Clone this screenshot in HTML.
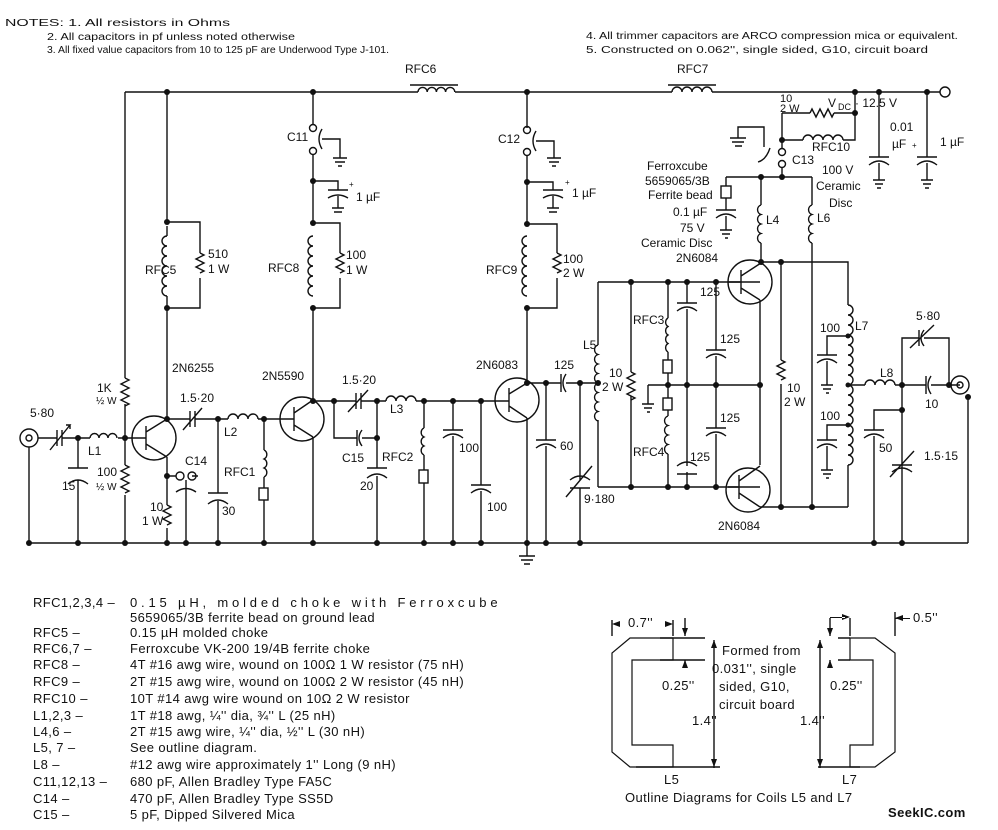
<!DOCTYPE html>
<html><head><meta charset="utf-8"><style>
html,body{margin:0;padding:0;background:#fff;}
svg{display:block;}
text{font-family:"Liberation Sans",sans-serif;fill:#111;}
.l{font-size:12px;}
.n{font-size:10px;}
.t{font-size:13px;letter-spacing:0.4px;}
</style></head><body>
<svg width="998" height="830" viewBox="0 0 998 830" xmlns="http://www.w3.org/2000/svg">
<g fill="none" stroke="#111" stroke-width="1.4">
<path d="M125 92H418 M455 92H672 M712 92H940"/>
<path d="M418 92a4.6 4.6 0 0 1 9.2 0a4.6 4.6 0 0 1 9.2 0a4.6 4.6 0 0 1 9.2 0a4.6 4.6 0 0 1 9.2 0"/>
<path d="M672 92a5 5 0 0 1 10 0a5 5 0 0 1 10 0a5 5 0 0 1 10 0a5 5 0 0 1 10 0"/>
<path d="M410 85H458 M668 85H716"/>
<circle cx="945" cy="92" r="5"/>
<path d="M29 543H968 M968 397V543"/>
<path d="M125 92V378 M125 404V465 M125 495V543"/>
<path d="M125 378l4 2l-8 4l8 4l-8 4l8 4l-8 4l8 4l-4 2"/>
<path d="M125 465l4 2l-8 4l8 4l-8 4l8 4l-8 4l8 4l-4 2"/>
<circle cx="29" cy="438" r="9"/><circle cx="29" cy="438" r="3"/>
<path d="M38 438H57 M62 438H90 M118 438H134 M29 447V543"/>
<path d="M57 430V446 M62 430V446"/><path d="M50 450L70 425l-4 0 M70 425l0 4"/>
<path d="M90 438a4.5 4.5 0 0 1 9 0a4.5 4.5 0 0 1 9 0a4.5 4.5 0 0 1 9 0"/>
<path d="M78 438V468 M78 480V543 M68 468H88 M68 484q10-8 20 0"/>
<circle cx="154" cy="438" r="22"/>
<path d="M134 438H146 M146 426V450 M146 432L167 419 M146 444L167 457"/>
<path d="M167 92V222 M167 308V419 M167 457V505 M167 528V543"/>
<path d="M167 505l4 2l-8 4l8 4l-8 4l8 4l-4 2"/>
<path d="M167 222H200V253 M200 278V308H167 M167 226V236 M167 296V308"/>
<path d="M200 253l4 2l-8 4l8 4l-8 4l8 4l-4 2"/>
<path d="M167 236a5 5 0 0 0 0 10a5 5 0 0 0 0 10a5 5 0 0 0 0 10a5 5 0 0 0 0 10a5 5 0 0 0 0 10a5 5 0 0 0 0 10"/>
<path d="M167 476H176 M192 476H198"/><circle cx="180" cy="476" r="4"/><circle cx="192" cy="476" r="4"/>
<path d="M186 480V543 M176 492q10-7 20 0"/>
<path d="M167 419H190 M195 419H228 M190 411V427 M195 411V427 M183 430L202 408"/>
<path d="M228 419a5 5 0 0 1 10 0a5 5 0 0 1 10 0a5 5 0 0 1 10 0 M258 419H280"/>
<path d="M218 419V493 M208 493H228 M208 504q10-8 20 0 M218 501V543"/>
<path d="M264 419V450 M264 450a5 5 0 0 1 0 9a5 5 0 0 1 0 9a5 5 0 0 1 0 9 M264 477V488 M264 500V543"/>
<rect x="259" y="488" width="9" height="12"/>
<circle cx="302" cy="419" r="22"/>
<path d="M280 419H294 M294 407V431 M294 413L313 400 M294 425L313 437"/>
<path d="M313 92V125 M313 155V223 M313 308V400 M313 437V543"/>
<circle cx="313" cy="128" r="3.5"/><circle cx="313" cy="151" r="3.5"/>
<path d="M322 129q-6 10 0 20 M322 139H340V158 M333 158H347 M335 162H345 M338 166H342"/>
<path d="M313 181H338V190 M328 190H348 M328 198q10-6 20 0 M338 196V208 M332 208H344 M334 212H342"/>
<path d="M313 223H340V253 M340 278V308H313"/>
<path d="M340 253l4 2l-8 4l8 4l-8 4l8 4l-4 2"/>
<path d="M313 236a5 5 0 0 0 0 10a5 5 0 0 0 0 10a5 5 0 0 0 0 10a5 5 0 0 0 0 10a5 5 0 0 0 0 10a5 5 0 0 0 0 10"/>
<path d="M313 401H356 M361 401H386 M416 401H506 M356 393V409 M361 393V409 M348 412L368 390"/>
<path d="M386 401a5 5 0 0 1 10 0a5 5 0 0 1 10 0a5 5 0 0 1 10 0"/>
<path d="M334 401V438H357 M362 438H377 M357 430V446 M362 430q-6 8 0 16"/>
<path d="M377 401V468 M367 468H387 M367 478q10-8 20 0 M377 476V543"/>
<path d="M424 401V428 M424 428a5 5 0 0 0 0 9a5 5 0 0 0 0 9a5 5 0 0 0 0 9 M424 455V470 M424 483V543"/>
<rect x="419" y="470" width="9" height="13"/>
<path d="M453 401V430 M443 430H463 M443 438q10-8 20 0 M453 436V543"/>
<path d="M481 401V485 M471 485H491 M471 493q10-8 20 0 M481 491V543"/>
<circle cx="517" cy="400" r="22"/>
<path d="M506 401H509 M509 388V412 M509 394L527 383 M509 406L527 418"/>
<path d="M527 92V128 M527 155V224 M527 308V383 M527 418V556"/>
<path d="M519 556H535 M521 560H533 M524 564H530"/>
<circle cx="527" cy="130" r="3.5"/><circle cx="527" cy="152" r="3.5"/>
<path d="M536 131q-6 10 0 20 M536 141H554V158 M547 158H561 M549 162H559 M552 166H556"/>
<path d="M527 182H553V190 M543 190H563 M543 198q10-6 20 0 M553 196V208 M547 208H559 M549 212H557"/>
<path d="M527 224H557V253 M557 278V308H527"/>
<path d="M557 253l4 2l-8 4l8 4l-8 4l8 4l-4 2"/>
<path d="M527 236a5 5 0 0 0 0 10a5 5 0 0 0 0 10a5 5 0 0 0 0 10a5 5 0 0 0 0 10a5 5 0 0 0 0 10a5 5 0 0 0 0 10"/>
<path d="M527 383H561 M566 383H598 M561 374V392 M566 374q-6 9 0 18"/>
<path d="M546 383V440 M536 440H556 M536 448q10-8 20 0 M546 446V543"/>
<path d="M580 383V480 M570 480q10-8 20 0 M570 488H590 M566 497L592 466 M580 488V543"/>
<path d="M598 282V345 M598 420V487 M598 282H760 M598 487H760 M631 282V372 M631 396V487"/>
<path d="M598 345a5 5 0 0 0 0 9.5a5 5 0 0 0 0 9.5a5 5 0 0 0 0 9.5a5 5 0 0 0 0 9.5a5 5 0 0 0 0 9.5a5 5 0 0 0 0 9.5a5 5 0 0 0 0 9.5a5 5 0 0 0 0 9.5"/>
<path d="M631 372l4 2l-8 4l8 4l-8 4l8 4l-8 4l8 4l-4 2"/>
<path d="M668 282V318 M668 318a5 5 0 0 0 0 8.5a5 5 0 0 0 0 8.5a5 5 0 0 0 0 8.5a5 5 0 0 0 0 8.5 M668 352V360 M668 373V398 M668 410V416 M668 416a5 5 0 0 0 0 9.5a5 5 0 0 0 0 9.5a5 5 0 0 0 0 9.5a5 5 0 0 0 0 9.5 M668 454V487"/>
<rect x="663" y="360" width="9" height="13"/><rect x="663" y="398" width="9" height="12"/>
<path d="M648 385H760 M648 385V404 M642 404H654 M644 408H652 M647 412H650"/>
<path d="M687 282V303 M677 303H697 M677 311q10-8 20 0 M687 309V466 M677 466q10-8 20 0 M677 474H697 M687 472V487"/>
<path d="M716 282V350 M706 350H726 M706 358q10-8 20 0 M716 356V428 M706 428H726 M706 436q10-8 20 0 M716 434V487"/>
<circle cx="750" cy="282" r="22"/>
<path d="M728 282H741 M741 270V294 M741 276L761 263 M741 288L760 300 M760 300V465"/>
<circle cx="748" cy="490" r="22"/>
<path d="M728 487H739 M739 475V499 M739 481L760 466 M739 493L760 507"/>
<path d="M760 507H848 M781 262V360 M781 384V507 M812 177V205 M812 243V507 M761 262H848V305 M848 465V507"/>
<path d="M781 360l4 2l-8 4l8 4l-8 4l8 4l-4 2"/>
<path d="M761 177V205 M761 243V262 M726 177H812 M726 177V186 M726 198V210"/>
<rect x="721" y="186" width="10" height="12"/>
<path d="M716 210H736 M716 218q10-8 20 0 M726 216V230 M720 230H732 M722 234H730 M725 238H728"/>
<path d="M761 205a5 5 0 0 0 0 9.5a5 5 0 0 0 0 9.5a5 5 0 0 0 0 9.5a5 5 0 0 0 0 9.5"/>
<path d="M812 205a5 5 0 0 0 0 9.5a5 5 0 0 0 0 9.5a5 5 0 0 0 0 9.5a5 5 0 0 0 0 9.5"/>
<circle cx="782" cy="152" r="3.5"/><circle cx="782" cy="164" r="3.5"/>
<path d="M782 168V177 M782 113V148 M782 113H810 M834 113H855V92 M782 140H803 M843 140H855V113"/>
<path d="M810 113l2 -4l4 8l4 -8l4 8l4 -8l4 8l2 -4"/>
<path d="M803 140a5 5 0 0 1 10 0a5 5 0 0 1 10 0a5 5 0 0 1 10 0a5 5 0 0 1 10 0"/>
<path d="M770 148q-4 12 -12 14 M764 147V127H738V138 M730 138H746 M732 142H744 M735 146H742"/>
<path d="M879 92V157 M869 157H889 M869 165q10-8 20 0 M879 163V180 M873 180H885 M875 184H883 M877 188H881"/>
<path d="M927 92V157 M917 157H937 M917 165q10-8 20 0 M927 163V180 M921 180H933 M923 184H931 M925 188H929"/>
<path d="M848 305a5 5 0 0 1 0 10a5 5 0 0 1 0 10a5 5 0 0 1 0 10a5 5 0 0 1 0 10a5 5 0 0 1 0 10a5 5 0 0 1 0 10a5 5 0 0 1 0 10a5 5 0 0 1 0 10a5 5 0 0 1 0 10a5 5 0 0 1 0 10a5 5 0 0 1 0 10a5 5 0 0 1 0 10a5 5 0 0 1 0 10a5 5 0 0 1 0 10a5 5 0 0 1 0 10a5 5 0 0 1 0 10"/>
<path d="M848 336H827V355 M817 355H837 M817 363q10-8 20 0 M827 361V385 M821 385H833 M823 389H831 M826 393H829"/>
<path d="M848 425H827V440 M817 440H837 M817 448q10-8 20 0 M827 446V470 M821 470H833 M823 474H831 M826 478H829"/>
<path d="M848 385H865 M895 385H926 M931 385H960"/>
<path d="M865 385a5 5 0 0 1 10 0a5 5 0 0 1 10 0a5 5 0 0 1 10 0"/>
<path d="M926 376V394 M931 376q-6 9 0 18"/>
<path d="M902 385V338H919 M924 338H949V385 M919 330V346 M924 330q-6 8 0 16 M910 348L934 325"/>
<circle cx="960" cy="385" r="9"/><circle cx="960" cy="385" r="3"/>
<path d="M902 385V543 M902 410H874V430 M864 430H884 M864 438q10-8 20 0 M874 436V543"/>
<path d="M892 465H912 M892 472q10-8 20 0 M890 477L914 451"/>
<path d="M630 638H673V660H632V745H673V767H630L612 752V653Z" stroke-width="1.2"/>
<path d="M875 638H850V660H873V745H850V767H875L895 752V653Z" stroke-width="1.2"/>
<path d="M612 620V636 M673 620V636 M685 618V636 M685 660V668 M660 638H705 M660 660H705 M714 640V768 M636 767H720 M850 618V636 M830 618V636 M830 660V668 M838 638H850 M838 660H850 M820 640V768 M818 767H860 M895 612V636"/>
</g>
<g fill="#111">
<path d="M612 624l8 -3v6z M673 624l-8 -3v6z M685 636l-3 -8h6z M685 660l-3 8h6z M714 640l-3 8h6z M714 767l-3 -8h6z M820 640l-3 8h6z M820 767l-3 -8h6z M830 636l-3 -8h6z M830 660l-3 8h6z M895 618l8 -3v6z M895 618H910V619H895z M850 617l-8 -3v6z M830 617H845V618H830z"/>
<circle cx="167" cy="92" r="3"/><circle cx="313" cy="92" r="3"/><circle cx="527" cy="92" r="3"/><circle cx="855" cy="92" r="3"/><circle cx="879" cy="92" r="3"/><circle cx="927" cy="92" r="3"/>
<circle cx="78" cy="438" r="3"/><circle cx="125" cy="438" r="3"/><circle cx="167" cy="419" r="3"/><circle cx="167" cy="476" r="3"/><circle cx="218" cy="419" r="3"/><circle cx="264" cy="419" r="3"/>
<circle cx="167" cy="222" r="3"/><circle cx="167" cy="308" r="3"/><circle cx="313" cy="181" r="3"/><circle cx="313" cy="223" r="3"/><circle cx="313" cy="308" r="3"/>
<circle cx="527" cy="182" r="3"/><circle cx="527" cy="224" r="3"/><circle cx="527" cy="308" r="3"/>
<circle cx="313" cy="401" r="3"/><circle cx="334" cy="401" r="3"/><circle cx="377" cy="401" r="3"/><circle cx="377" cy="438" r="3"/><circle cx="424" cy="401" r="3"/><circle cx="453" cy="401" r="3"/><circle cx="481" cy="401" r="3"/>
<circle cx="527" cy="383" r="3"/><circle cx="546" cy="383" r="3"/><circle cx="580" cy="383" r="3"/><circle cx="598" cy="383" r="3"/>
<circle cx="29" cy="543" r="3"/><circle cx="78" cy="543" r="3"/><circle cx="125" cy="543" r="3"/><circle cx="167" cy="543" r="3"/><circle cx="186" cy="543" r="3"/><circle cx="218" cy="543" r="3"/><circle cx="264" cy="543" r="3"/><circle cx="313" cy="543" r="3"/><circle cx="377" cy="543" r="3"/><circle cx="424" cy="543" r="3"/><circle cx="453" cy="543" r="3"/><circle cx="481" cy="543" r="3"/><circle cx="527" cy="543" r="3"/><circle cx="546" cy="543" r="3"/><circle cx="580" cy="543" r="3"/><circle cx="874" cy="543" r="3"/><circle cx="902" cy="543" r="3"/>
<circle cx="631" cy="282" r="3"/><circle cx="668" cy="282" r="3"/><circle cx="687" cy="282" r="3"/><circle cx="716" cy="282" r="3"/>
<circle cx="631" cy="487" r="3"/><circle cx="668" cy="487" r="3"/><circle cx="687" cy="487" r="3"/><circle cx="716" cy="487" r="3"/>
<circle cx="668" cy="385" r="3"/><circle cx="687" cy="385" r="3"/><circle cx="716" cy="385" r="3"/><circle cx="760" cy="385" r="3"/>
<circle cx="761" cy="262" r="3"/><circle cx="781" cy="262" r="3"/><circle cx="781" cy="507" r="3"/><circle cx="812" cy="507" r="3"/>
<circle cx="761" cy="177" r="3"/><circle cx="782" cy="177" r="3"/><circle cx="782" cy="140" r="3"/><circle cx="855" cy="113" r="3"/>
<circle cx="848" cy="336" r="2.5"/><circle cx="848" cy="385" r="2.5"/><circle cx="848" cy="425" r="2.5"/>
<circle cx="902" cy="385" r="3"/><circle cx="949" cy="385" r="3"/><circle cx="902" cy="410" r="3"/><circle cx="968" cy="397" r="3"/>
</g>
<g class="n">
<text x="5" y="26" textLength="225" lengthAdjust="spacingAndGlyphs">NOTES:  1.  All resistors in Ohms</text>
<text x="47" y="40" textLength="248" lengthAdjust="spacingAndGlyphs">2.  All capacitors in pf unless noted otherwise</text>
<text x="47" y="53" textLength="342" lengthAdjust="spacingAndGlyphs">3.  All fixed value capacitors from 10 to 125 pF are Underwood Type J-101.</text>
<text x="586" y="39" textLength="372" lengthAdjust="spacingAndGlyphs">4.  All trimmer capacitors are ARCO compression mica or equivalent.</text>
<text x="586" y="53" textLength="342" lengthAdjust="spacingAndGlyphs">5.  Constructed on 0.062'', single sided, G10, circuit board</text>
</g>
<g class="l">
<text x="405" y="73">RFC6</text><text x="677" y="73">RFC7</text>
<text x="828" y="107">V</text><text x="838" y="110" font-size="9">DC</text><text x="855" y="107">· 12.5 V</text>
<text x="780" y="102" font-size="11">10</text><text x="780" y="112" font-size="11">2 W</text>
<text x="812" y="151">RFC10</text><text x="792" y="164">C13</text>
<text x="890" y="131">0.01</text><text x="892" y="148">µF</text><text x="940" y="146">1 µF</text><text x="912" y="148" font-size="8">+</text>
<text x="822" y="174">100 V</text><text x="816" y="190">Ceramic</text><text x="829" y="207">Disc</text>
<text x="647" y="170">Ferroxcube</text><text x="645" y="185">5659065/3B</text><text x="648" y="199">Ferrite bead</text>
<text x="673" y="216">0.1 µF</text><text x="680" y="232">75 V</text><text x="641" y="247">Ceramic Disc</text>
<text x="676" y="262">2N6084</text><text x="766" y="224">L4</text><text x="817" y="222">L6</text>
<text x="700" y="296">125</text><text x="720" y="343">125</text><text x="720" y="422">125</text><text x="690" y="461">125</text>
<text x="633" y="324">RFC3</text><text x="633" y="456">RFC4</text>
<text x="583" y="349">L5</text><text x="609" y="377">10</text><text x="602" y="391">2 W</text>
<text x="787" y="392">10</text><text x="784" y="406">2 W</text>
<text x="718" y="530">2N6084</text>
<text x="820" y="332">100</text><text x="855" y="330">L7</text><text x="820" y="420">100</text>
<text x="880" y="377">L8</text><text x="916" y="320">5·80</text><text x="925" y="408">10</text>
<text x="879" y="452">50</text><text x="924" y="460">1.5·15</text>
<text x="30" y="417">5·80</text><text x="88" y="455">L1</text><text x="62" y="490">15</text>
<text x="97" y="392">1K</text><text x="96" y="404" font-size="10">½ W</text>
<text x="97" y="476">100</text><text x="96" y="490" font-size="10">½ W</text>
<text x="145" y="274">RFC5</text><text x="208" y="258">510</text><text x="208" y="273">1 W</text>
<text x="172" y="372">2N6255</text><text x="180" y="402">1.5·20</text><text x="224" y="436">L2</text>
<text x="185" y="465">C14</text><text x="150" y="511">10</text><text x="142" y="525">1 W</text><text x="222" y="515">30</text>
<text x="224" y="476">RFC1</text><text x="262" y="380">2N5590</text>
<text x="287" y="141">C11</text><text x="356" y="201">1 µF</text><text x="349" y="187" font-size="8">+</text>
<text x="268" y="272">RFC8</text><text x="346" y="259">100</text><text x="346" y="274">1 W</text>
<text x="342" y="384">1.5·20</text><text x="390" y="413">L3</text><text x="342" y="462">C15</text>
<text x="382" y="461">RFC2</text><text x="360" y="490">20</text><text x="459" y="452">100</text><text x="487" y="511">100</text>
<text x="476" y="369">2N6083</text><text x="498" y="143">C12</text><text x="572" y="197">1 µF</text><text x="565" y="185" font-size="8">+</text>
<text x="486" y="274">RFC9</text><text x="563" y="263">100</text><text x="563" y="277">2 W</text>
<text x="554" y="369">125</text><text x="560" y="450">60</text><text x="584" y="503">9·180</text>
</g>
<g class="t">
<text x="33" y="607">RFC1,2,3,4 –</text><text x="130" y="607" textLength="368">0.15 µH,    molded    choke    with    Ferroxcube</text>
<text x="130" y="622">5659065/3B ferrite bead on ground lead</text>
<text x="33" y="637">RFC5 –</text><text x="130" y="637">0.15 µH molded choke</text>
<text x="33" y="653">RFC6,7 –</text><text x="130" y="653">Ferroxcube VK-200 19/4B ferrite choke</text>
<text x="33" y="669">RFC8 –</text><text x="130" y="669">4T #16 awg wire, wound on 100Ω 1 W resistor (75 nH)</text>
<text x="33" y="686">RFC9 –</text><text x="130" y="686">2T #15 awg wire, wound on 100Ω 2 W resistor  (45 nH)</text>
<text x="33" y="703">RFC10 –</text><text x="130" y="703">10T #14 awg wire wound on 10Ω 2 W resistor</text>
<text x="33" y="720">L1,2,3 –</text><text x="130" y="720">1T #18 awg, ¼'' dia, ¾'' L (25 nH)</text>
<text x="33" y="736">L4,6 –</text><text x="130" y="736">2T #15 awg wire, ¼'' dia, ½'' L (30 nH)</text>
<text x="33" y="752">L5, 7 –</text><text x="130" y="752">See outline diagram.</text>
<text x="33" y="769">L8 –</text><text x="130" y="769">#12 awg wire approximately 1'' Long (9 nH)</text>
<text x="33" y="786">C11,12,13 –</text><text x="130" y="786">680 pF, Allen Bradley Type FA5C</text>
<text x="33" y="803">C14 –</text><text x="130" y="803">470 pF, Allen Bradley Type SS5D</text>
<text x="33" y="819">C15 –</text><text x="130" y="819">5 pF, Dipped Silvered Mica</text>
</g>
<g class="t">
<text x="628" y="627">0.7''</text><text x="913" y="622">0.5''</text>
<text x="722" y="655">Formed from</text><text x="712" y="673">0.031'', single</text>
<text x="719" y="691">sided, G10,</text><text x="719" y="709">circuit board</text>
<text x="662" y="690">0.25''</text><text x="830" y="690">0.25''</text>
<text x="692" y="725">1.4''</text><text x="800" y="725">1.4''</text>
<text x="664" y="784">L5</text><text x="842" y="784">L7</text>
<text x="625" y="802">Outline Diagrams for Coils L5 and L7</text>
<text x="888" y="817" font-weight="bold">SeekIC.com</text>
</g>
</svg>
</body></html>
